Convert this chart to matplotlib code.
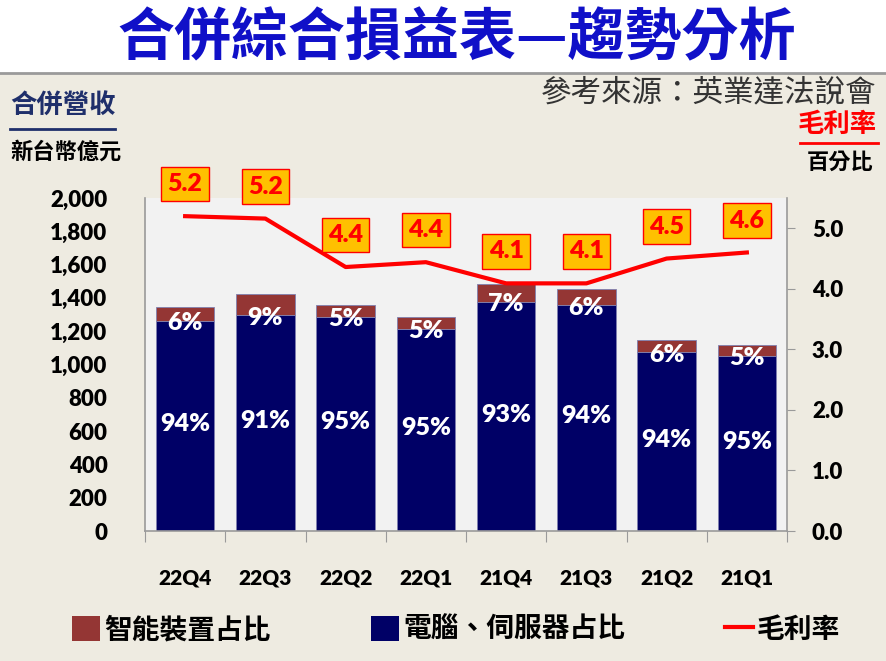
import matplotlib
matplotlib.use('Agg')
import matplotlib.pyplot as plt
from matplotlib.patches import Patch
from matplotlib.lines import Line2D
import numpy as np

# data (億元 / %)
quarters = ['22Q4', '22Q3', '22Q2', '22Q1', '21Q4', '21Q3', '21Q2', '21Q1']
pc_server = [1263, 1297, 1287, 1215, 1377, 1357, 1073, 1053]
smart_dev = [84, 126, 70, 72, 105, 95, 74, 66]
pc_pct = ['94%', '91%', '95%', '95%', '93%', '94%', '94%', '95%']
smart_pct = ['6%', '9%', '5%', '5%', '7%', '6%', '6%', '5%']
gross_margin = [5.20, 5.16, 4.36, 4.44, 4.09, 4.09, 4.50, 4.60]

CJK = ['Noto Sans CJK TC', 'DejaVu Sans']
NUM = ['Lato', 'DejaVu Sans']
BG = '#EEEBE1'
NAVY = '#000066'
BROWN = '#943634'
W = 'heavy'

fig = plt.figure(figsize=(8.86, 6.61), dpi=100, facecolor=BG)

# white title band + separator
fig.patches.append(plt.Rectangle((0, 1 - 73 / 661), 1, 73 / 661, transform=fig.transFigure,
                                 facecolor='white', edgecolor='none', zorder=0))
fig.add_artist(Line2D([0, 1], [1 - 73 / 661, 1 - 73 / 661], color='#9A9A9A', lw=2,
                      transform=fig.transFigure))
fig.text(0.515, 1 - 38 / 661, '合併綜合損益表—趨勢分析', ha='center', va='center',
         fontsize=41, fontweight='bold', color='#1010C8', family=CJK)
fig.text(876 / 886, 1 - 93 / 661, '參考來源：英業達法說會', ha='right', va='center',
         fontsize=22, color='#333333', family=CJK)

# axis captions
fig.text(10 / 886, 1 - 106 / 661, '合併營收', ha='left', va='center', fontsize=19,
         fontweight='bold', color='#1F2F6B', family=CJK)
fig.add_artist(Line2D([10 / 886, 115 / 886], [1 - 129 / 661, 1 - 129 / 661], color='#1F2F6B',
                      lw=2, transform=fig.transFigure))
fig.text(10 / 886, 1 - 152 / 661, '新台幣億元', ha='left', va='center', fontsize=16,
         fontweight='bold', color='black', family=CJK)
fig.text(877 / 886, 1 - 124 / 661, '毛利率', ha='right', va='center', fontsize=19,
         fontweight='bold', color='red', family=CJK)
fig.add_artist(Line2D([800 / 886, 878 / 886], [1 - 143 / 661, 1 - 143 / 661], color='red',
                      lw=2, transform=fig.transFigure))
fig.text(873 / 886, 1 - 162 / 661, '百分比', ha='right', va='center', fontsize=16,
         fontweight='bold', color='black', family=CJK)

ax = fig.add_axes([145 / 886, 130 / 661, 642 / 886, 333 / 661])
ax.set_facecolor('#F2F2F2')
x = np.arange(len(quarters))
ax.bar(x, pc_server, width=0.73, color=NAVY, edgecolor='#8080B0', linewidth=0.6, zorder=2)
ax.bar(x, smart_dev, bottom=pc_server, width=0.73, color=BROWN, edgecolor='#8080B0',
       linewidth=0.6, zorder=2)
for i in range(len(x)):
    ax.text(x[i], pc_server[i] / 2 + 10, pc_pct[i], ha='center', va='center', color='white',
            fontsize=18, fontweight=W, family=NUM, zorder=4)
    ax.text(x[i], pc_server[i] - 15, smart_pct[i], ha='center', va='center', color='white',
            fontsize=18, fontweight=W, family=NUM, zorder=4)

ax.set_xlim(-0.5, len(x) - 0.5)
ax.set_ylim(0, 2000)
ax.set_yticks(np.arange(0, 2001, 200))
ax.set_yticklabels([f'{v:,}' for v in range(0, 2001, 200)], family=NUM, fontsize=16,
                   fontweight=W)
ax.tick_params(axis='y', length=0, pad=27)
ax.set_xticks(np.arange(-0.5, len(x), 1), minor=False)
ax.set_xticklabels([])
ax.set_xticks(x, minor=True)
ax.set_xticklabels(quarters, minor=True, family=NUM, fontsize=15, fontweight=W)
ax.tick_params(axis='x', which='major', length=8, color='#9A9A9A', direction='out')
ax.tick_params(axis='x', which='minor', length=0, pad=27)
for s in ['top', 'right']:
    ax.spines[s].set_visible(False)
for s in ['left', 'bottom']:
    ax.spines[s].set_color('#9A9A9A')
    ax.spines[s].set_linewidth(1.2)

ax2 = ax.twinx()
ax2.plot(x, gross_margin, color='red', lw=3, zorder=5)
for i in range(len(x)):
    ax2.annotate(f'{gross_margin[i]:.1f}', (x[i], gross_margin[i]), xytext=(0, 23),
                 textcoords='offset points', ha='center', va='center', color='red',
                 fontsize=18, fontweight=W, family=NUM,
                 bbox=dict(boxstyle='square,pad=0.25', facecolor='#FFC000', edgecolor='red',
                           linewidth=1), zorder=6)
ax2.set_ylim(0, 5.5)
ax2.set_yticks(np.arange(0, 5.1, 1.0))
ax2.set_yticklabels([f'{v:.1f}' for v in np.arange(0, 5.1, 1.0)], family=NUM, fontsize=16,
                    fontweight=W)
ax2.tick_params(axis='y', length=6, color='#9A9A9A', pad=12)
for s in ['top', 'left', 'bottom']:
    ax2.spines[s].set_visible(False)
ax2.spines['right'].set_color('#9A9A9A')
ax2.spines['right'].set_linewidth(1.2)

handles = [Patch(facecolor=BROWN), Patch(facecolor=NAVY), Line2D([], [], color='red', lw=3)]
labels = ['智能裝置占比', '電腦、伺服器占比', '毛利率']
leg = fig.legend(handles, labels, loc='center', bbox_to_anchor=(0.515, 1 - 630 / 661), ncol=3,
                 frameon=False, handlelength=1.0, handleheight=1.0, handletextpad=0.15,
                 columnspacing=3.6, prop={'family': CJK, 'size': 20, 'weight': 'bold'})

fig.savefig('out.png', dpi=100, facecolor=BG)
